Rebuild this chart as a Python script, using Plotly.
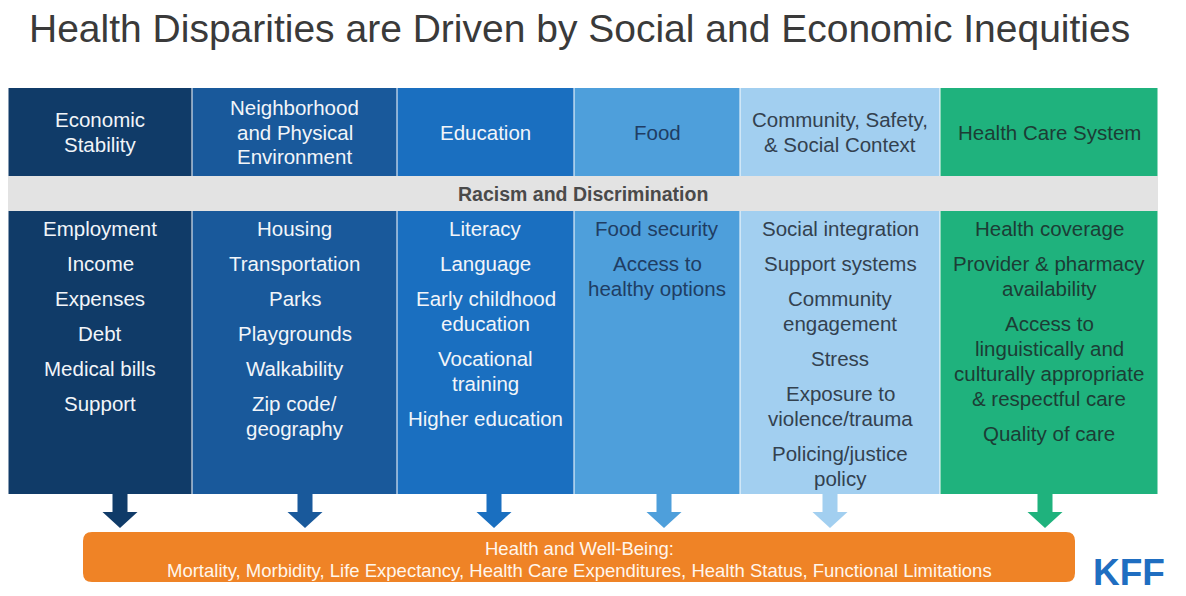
import plotly.graph_objects as go

# ---------------- data (text content) ----------------
title_text = "Health Disparities are Driven by Social and Economic Inequities"
categories = [
    "Economic<br>Stability",
    "Neighborhood<br>and Physical<br>Environment",
    "Education",
    "Food",
    "Community, Safety,<br>& Social Context",
    "Health Care System",
]
items_economic = ["Employment", "Income", "Expenses", "Debt", "Medical bills", "Support"]
items_neighborhood = ["Housing", "Transportation", "Parks", "Playgrounds", "Walkability",
                      "Zip code/<br>geography"]
items_education = ["Literacy", "Language", "Early childhood<br>education", "Vocational<br>training",
                   "Higher education"]
items_food = ["Food security", "Access to<br>healthy options"]
items_community = ["Social integration", "Support systems", "Community<br>engagement", "Stress",
                   "Exposure to<br>violence/trauma", "Policing/justice<br>policy"]
items_health = ["Health coverage", "Provider & pharmacy<br>availability",
                "Access to<br>linguistically and<br>culturally appropriate<br>& respectful care",
                "Quality of care"]
column_items = [items_economic, items_neighborhood, items_education, items_food,
                items_community, items_health]
band_text = "Racism and Discrimination"
outcome_title = "Health and Well-Being:"
outcome_text = ("Mortality, Morbidity, Life Expectancy, Health Care Expenditures, "
                "Health Status, Functional Limitations")
logo_text = "KFF"

# ---------------- styles / layout ----------------
W, H = 1186, 596
OFF = 8  # page body margin compensation
col_edges = [8, 192, 397, 574, 740, 940, 1158]
col_fill = ["#103b68", "#19599b", "#1a6fc0", "#4e9fdb", "#a2cff0", "#1fb27d"]
col_text = ["#f2f5f9", "#f2f5f9", "#f2f5f9", "#1f3d63", "#33414f", "#1c3d35"]
arrow_x = [120, 305, 494, 664, 830, 1045]
HEAD_TOP, HEAD_BOT = 88, 176
BAND_BOT = 211
BODY_BOT = 494
FONT = "Liberation Sans, Arial, Helvetica, sans-serif"
TXT = 20.5

shapes = []
annotations = []


def label(x, y, text, size, color, bold=False):
    annotations.append(dict(x=x, y=y, text=f"<b>{text}</b>" if bold else text,
                            showarrow=False, xref="x", yref="y",
                            xanchor="center", yanchor="middle",
                            font=dict(family=FONT, size=size, color=color)))


# columns
for i, name in enumerate(categories):
    x0, x1 = col_edges[i], col_edges[i + 1]
    cx = (x0 + x1) / 2
    # header
    shapes.append(dict(type="rect", xref="x", yref="y", x0=x0 + 0.5, x1=x1 - 0.5,
                       y0=HEAD_TOP, y1=HEAD_BOT, fillcolor=col_fill[i], line=dict(width=0),
                       layer="below"))
    lines = name.split("<br>")
    yc = (HEAD_TOP + HEAD_BOT) / 2 - (len(lines) - 1) * 24.5 / 2
    for ln in lines:
        label(cx, yc, ln, TXT, col_text[i])
        yc += 24.5
    # body
    shapes.append(dict(type="rect", xref="x", yref="y", x0=x0 + 0.5, x1=x1 - 0.5,
                       y0=BAND_BOT, y1=BODY_BOT, fillcolor=col_fill[i], line=dict(width=0),
                       layer="below"))
    y = 228
    for item in column_items[i]:
        for ln in item.split("<br>"):
            label(cx, y, ln, TXT, col_text[i])
            y += 25
        y += 10
    # arrow
    ax = arrow_x[i]
    path = (f"M {ax-7.5},{BODY_BOT} L {ax+7.5},{BODY_BOT} L {ax+7.5},512 L {ax+17.5},512 "
            f"L {ax},528 L {ax-17.5},512 L {ax-7.5},512 Z")
    shapes.append(dict(type="path", xref="x", yref="y", path=path, fillcolor=col_fill[i],
                       line=dict(width=0)))

# gray band
shapes.append(dict(type="rect", xref="x", yref="y", x0=col_edges[0], x1=col_edges[-1],
                   y0=HEAD_BOT, y1=BAND_BOT, fillcolor="#e3e3e3", line=dict(width=0),
                   layer="below"))
label((col_edges[0] + col_edges[-1]) / 2, (HEAD_BOT + BAND_BOT) / 2, band_text, 19.5,
      "#4a4a4a", bold=True)

# orange outcome bar (rounded)
x0, x1, y0, y1, r = 83, 1075, 532, 582, 9
rpath = (f"M {x0+r},{y0} L {x1-r},{y0} Q {x1},{y0} {x1},{y0+r} L {x1},{y1-r} "
         f"Q {x1},{y1} {x1-r},{y1} L {x0+r},{y1} Q {x0},{y1} {x0},{y1-r} "
         f"L {x0},{y0+r} Q {x0},{y0} {x0+r},{y0} Z")
shapes.append(dict(type="path", xref="x", yref="y", path=rpath, fillcolor="#ef8326",
                   line=dict(width=0)))
label((x0 + x1) / 2, 548, outcome_title, 18.5, "#fff6ec")
label((x0 + x1) / 2, 570, outcome_text, 18.5, "#fff6ec")

# title
label(579, 28, title_text, 39, "#3a3a3a")
# logo
label(1129, 572, logo_text, 37, "#1f6ec1", bold=True)

fig = go.Figure()
fig.update_layout(
    width=W - OFF, height=H - OFF, autosize=False,
    margin=dict(l=0, r=0, t=0, b=0),
    paper_bgcolor="white", plot_bgcolor="white",
    xaxis=dict(range=[OFF, W], visible=False, fixedrange=True),
    yaxis=dict(range=[H, OFF], visible=False, fixedrange=True),
    shapes=shapes, annotations=annotations, showlegend=False,
)
fig.write_html("out.html")
